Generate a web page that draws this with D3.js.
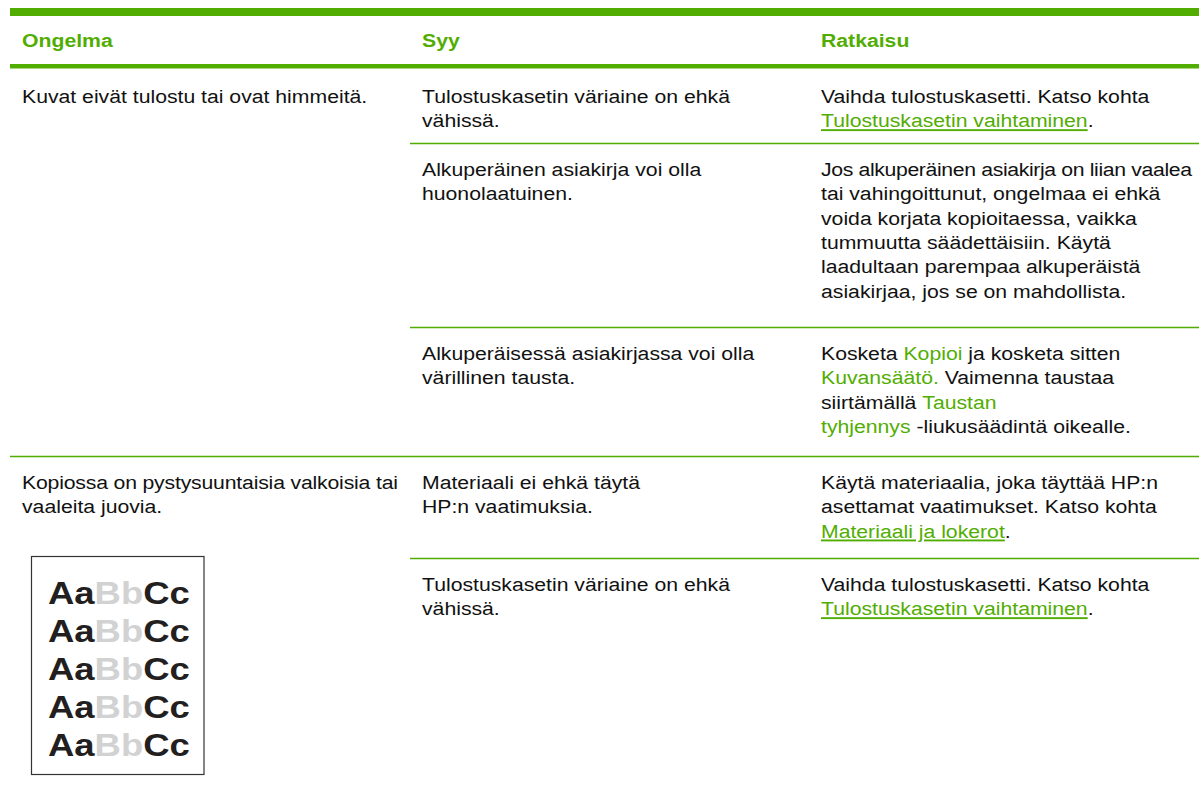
<!DOCTYPE html>
<html>
<head>
<meta charset="utf-8">
<script src="https://cdn.jsdelivr.net/npm/d3@7"></script>
<style>
  html, body { margin: 0; padding: 0; background: #fff; }
  svg { display: block; font-family: "Liberation Sans", Arial, sans-serif; }
</style>
</head>
<body>
<svg id="chart" width="1199" height="795"></svg>
<script>
// ---- data ----
const headers = ["Ongelma", "Syy", "Ratkaisu"];

const problems = [
  ["Kuvat eivät tulostu tai ovat himmeitä."],
  ["Kopiossa on pystysuuntaisia valkoisia tai", "vaaleita juovia."]
];
// which cause rows each problem spans
const problemSpans = [[0, 3], [3, 5]];

const causes = [
  ["Tulostuskasetin väriaine on ehkä", "vähissä."],
  ["Alkuperäinen asiakirja voi olla", "huonolaatuinen."],
  ["Alkuperäisessä asiakirjassa voi olla", "värillinen tausta."],
  ["Materiaali ei ehkä täytä", "HP:n vaatimuksia."],
  ["Tulostuskasetin väriaine on ehkä", "vähissä."]
];

// each solution: list of lines, each line: list of [text, kind]
const solutions = [
  [[["Vaihda tulostuskasetti. Katso kohta", "text"]],
   [["Tulostuskasetin vaihtaminen", "link"], [".", "text"]]],
  [[["Jos alkuperäinen asiakirja on liian vaalea", "text"]],
   [["tai vahingoittunut, ongelmaa ei ehkä", "text"]],
   [["voida korjata kopioitaessa, vaikka", "text"]],
   [["tummuutta säädettäisiin. Käytä", "text"]],
   [["laadultaan parempaa alkuperäistä", "text"]],
   [["asiakirjaa, jos se on mahdollista.", "text"]]],
  [[["Kosketa ", "text"], ["Kopioi", "ui"], [" ja kosketa sitten", "text"]],
   [["Kuvansäätö.", "ui"], [" Vaimenna taustaa", "text"]],
   [["siirtämällä ", "text"], ["Taustan", "ui"]],
   [["tyhjennys", "ui"], [" -liukusäädintä oikealle.", "text"]]],
  [[["Käytä materiaalia, joka täyttää HP:n", "text"]],
   [["asettamat vaatimukset. Katso kohta", "text"]],
   [["Materiaali ja lokerot", "link"], [".", "text"]]],
  [[["Vaihda tulostuskasetti. Katso kohta", "text"]],
   [["Tulostuskasetin vaihtaminen", "link"], [".", "text"]]]
];

const sampleLines = 5;
const sampleParts = [["Aa", "dark"], ["Bb", "light"], ["Cc", "dark"]];

// ---- layout / style ----
const W = 1199;
const green = "#52ad02";
const fontSize = 19, sx = 1.116, lineH = 24.3;
const colX = d3.scaleOrdinal().domain(headers).range([10, 410, 809]);
const colMax = d3.scaleOrdinal().domain(headers).range([376, 376, 371]);
const textPad = 12;
const rowTops = [70, 143, 327, 456, 558];
const firstBaseline = 33;

const svg = d3.select("#chart");

// top bar & header rule
svg.append("rect").attr("x", 10).attr("y", 8).attr("width", W - 10).attr("height", 8).attr("fill", green);
svg.append("rect").attr("x", 10).attr("y", 64).attr("width", W - 10).attr("height", 4.5).attr("fill", green);

// headers
svg.selectAll("text.hdr").data(headers).join("text")
  .attr("class", "hdr")
  .attr("transform", d => `translate(${colX(d) + textPad},46.5) scale(${sx},1)`)
  .attr("font-size", fontSize).attr("font-weight", "bold").attr("fill", green)
  .text(d => d);

// row rules
const ruleRows = rowTops.slice(1);
svg.selectAll("line.rule").data(ruleRows).join("line")
  .attr("class", "rule")
  .attr("x1", d => problemSpans.some(s => rowTops[s[0]] === d) ? 10 : colX(headers[1]))
  .attr("x2", W)
  .attr("y1", d => d + 0.5).attr("y2", d => d + 0.5)
  .attr("stroke", green).attr("stroke-width", 1.6);

function fit(t, col) {
  const maxW = colMax(col);
  const w = t.node().getComputedTextLength() * sx;
  if (w > maxW) t.attr("textLength", maxW / sx).attr("lengthAdjust", "spacing");
}

function plainText(g, x, y0, lines, col) {
  lines.forEach((ln, i) => {
    const t = g.append("text")
      .attr("transform", `translate(${x},${y0 + i * lineH}) scale(${sx},1)`)
      .attr("font-size", fontSize).attr("fill", "#111")
      .text(ln);
    fit(t, col);
  });
}

// problems
problems.forEach((p, i) => {
  const top = rowTops[problemSpans[i][0]];
  plainText(svg, colX(headers[0]) + textPad, top + firstBaseline, p, headers[0]);
});

// causes
causes.forEach((c, i) => {
  plainText(svg, colX(headers[1]) + textPad, rowTops[i] + firstBaseline, c, headers[1]);
});

// solutions
solutions.forEach((sol, i) => {
  sol.forEach((line, j) => {
    const t = svg.append("text")
      .attr("transform", `translate(${colX(headers[2]) + textPad},${rowTops[i] + firstBaseline + j * lineH}) scale(${sx},1)`)
      .attr("font-size", fontSize).attr("fill", "#111");
    line.forEach(([txt, kind]) => {
      const ts = t.append("tspan").text(txt)
        .attr("fill", kind === "text" ? "#111" : green);
      if (kind === "link") ts.style("text-decoration", "underline");
    });
    fit(t, headers[2]);
  });
});

// sample image
const boxTop = rowTops[problemSpans[1][0]] + 100;
const sample = svg.append("g");
sample.append("rect").attr("x", 31.5).attr("y", boxTop + 0.5).attr("width", 172.5).attr("height", 218)
  .attr("fill", "#fff").attr("stroke", "#333").attr("stroke-width", 1.2);
const sy = d3.scaleLinear().domain([0, sampleLines - 1]).range([boxTop + 47.5, boxTop + 199.5]);
d3.range(sampleLines).forEach(k => {
  const t = sample.append("text")
    .attr("transform", `translate(48,${sy(k)}) scale(1.14,1)`)
    .attr("font-size", 32).attr("font-weight", "bold");
  sampleParts.forEach(([txt, tone]) => {
    t.append("tspan").text(txt).attr("fill", tone === "dark" ? "#231f20" : "#d2d2d2");
  });
});
</script>
</body>
</html>
